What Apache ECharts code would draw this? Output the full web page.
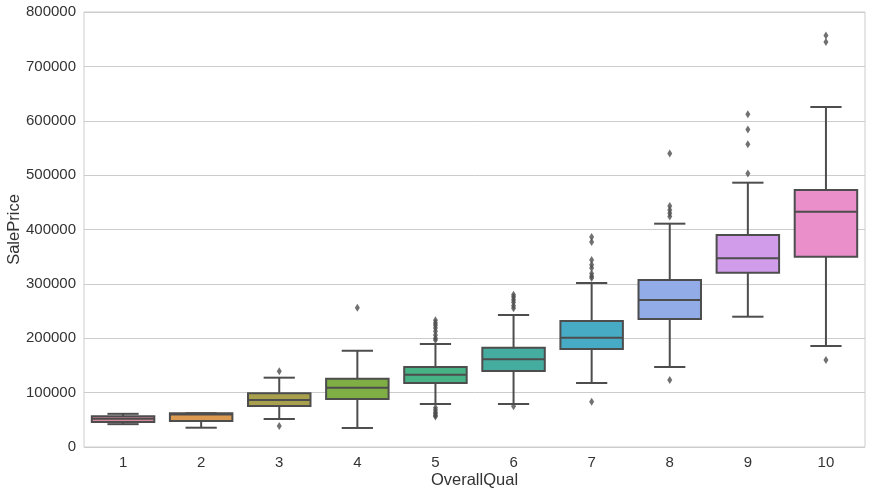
<!DOCTYPE html>
<html>
<head>
<meta charset="utf-8">
<script src="https://cdn.jsdelivr.net/npm/echarts@6/dist/echarts.min.js"></script>
<style>html,body{margin:0;padding:0;background:#fff}#c{width:872px;height:494px}</style>
</head>
<body>
<div id="c"></div>
<script>
var categories = ['1','2','3','4','5','6','7','8','9','10'];
var whiskerLow  = [42000, 35500, 51500, 35000, 79000, 79000, 117700, 147100, 239600, 185700];
var q1          = [46000, 47800, 75400, 88300, 117700, 139800, 180200, 235400, 320600, 350000];
var medians     = [52000, 60000, 86400, 109000, 133000, 161300, 201000, 270300, 347000, 432700];
var q3          = [56500, 62000, 98700, 125600, 147000, 182600, 231700, 307100, 389900, 472600];
var whiskerHigh = [61000, 62000, 127500, 177000, 189500, 242800, 301600, 410700, 486100, 625300];
var outliers = [
  [],
  [],
  [139500, 38500],
  [256000],
  [233000, 228000, 224000, 219000, 213000, 206000, 200000, 197000, 72000, 68000, 64000, 61000, 58000, 56000],
  [280000, 276000, 271000, 266000, 260000, 255000, 75000],
  [386000, 377000, 344000, 335000, 329000, 319000, 314000, 311000, 83000],
  [540000, 443000, 436000, 430000, 424000, 123000],
  [612000, 584000, 557000, 503000],
  [757000, 745000, 160000]
];
var yTicks = {min: 0, max: 800000, interval: 100000};
var palette = ['#d98a9e', '#dc9a50', '#a9a04e', '#7fae45', '#46b286', '#45ada0', '#48abc6', '#92ace8', '#d19deb', '#eb8fcb'];

var boxData = categories.map(function (c, i) {
  return [i, whiskerLow[i], q1[i], medians[i], q3[i], whiskerHigh[i]];
});
var outData = [];
outliers.forEach(function (arr, i) {
  arr.forEach(function (v) { outData.push([i, v]); });
});

var edge = '#4d4d4d';
var chart = echarts.init(document.getElementById('c'));
chart.setOption({
  animation: false,
  backgroundColor: '#ffffff',
  grid: {left: 84, right: 7, top: 12, bottom: 47, show: true, borderColor: '#cccccc', borderWidth: 1,
    containLabel: false, outerBoundsMode: 'none'},
  xAxis: {
    type: 'category',
    data: categories,
    boundaryGap: true,
    name: 'OverallQual',
    nameLocation: 'middle',
    nameGap: 25,
    nameMoveOverlap: false,
    nameTextStyle: {fontSize: 16.5, color: '#333333', fontFamily: 'Liberation Sans'},
    axisLine: {show: false},
    axisTick: {show: false},
    splitLine: {show: false},
    axisLabel: {fontSize: 15, color: '#333333', margin: 8, fontFamily: 'Liberation Sans'}
  },
  yAxis: {
    type: 'value',
    min: yTicks.min,
    max: yTicks.max,
    interval: yTicks.interval,
    name: 'SalePrice',
    nameLocation: 'middle',
    nameGap: 61,
    nameMoveOverlap: false,
    nameTextStyle: {fontSize: 16.5, color: '#333333', fontFamily: 'Liberation Sans'},
    axisLine: {show: false},
    axisTick: {show: false},
    splitLine: {show: true, lineStyle: {color: '#cccccc', width: 1}},
    axisLabel: {fontSize: 15, color: '#333333', margin: 8, fontFamily: 'Liberation Sans',
      formatter: function (v) { return String(v); }}
  },
  series: [
    {
      type: 'custom',
      data: boxData,
      renderItem: function (params, api) {
        var idx = api.value(0);
        var band = api.size([1, 0])[0];
        var bw = band * 0.8;
        var pMin = api.coord([idx, api.value(1)]);
        var pQ1 = api.coord([idx, api.value(2)]);
        var pMed = api.coord([idx, api.value(3)]);
        var pQ3 = api.coord([idx, api.value(4)]);
        var pMax = api.coord([idx, api.value(5)]);
        var x = pMed[0];
        var ls = {stroke: edge, lineWidth: 2};
        return {
          type: 'group',
          children: [
            {type: 'line', shape: {x1: x, y1: pQ3[1], x2: x, y2: pMax[1]}, style: ls},
            {type: 'line', shape: {x1: x, y1: pQ1[1], x2: x, y2: pMin[1]}, style: ls},
            {type: 'line', shape: {x1: x - bw / 4, y1: pMax[1], x2: x + bw / 4, y2: pMax[1]}, style: ls},
            {type: 'line', shape: {x1: x - bw / 4, y1: pMin[1], x2: x + bw / 4, y2: pMin[1]}, style: ls},
            {type: 'rect', shape: {x: x - bw / 2, y: pQ3[1], width: bw, height: pQ1[1] - pQ3[1]},
              style: {fill: palette[idx], stroke: edge, lineWidth: 2}},
            {type: 'line', shape: {x1: x - bw / 2, y1: pMed[1], x2: x + bw / 2, y2: pMed[1]}, style: ls}
          ]
        };
      },
      z: 2
    },
    {
      type: 'scatter',
      data: outData,
      symbol: 'diamond',
      symbolSize: [5, 8],
      itemStyle: {color: edge},
      z: 3
    }
  ]
});
</script>
</body>
</html>
